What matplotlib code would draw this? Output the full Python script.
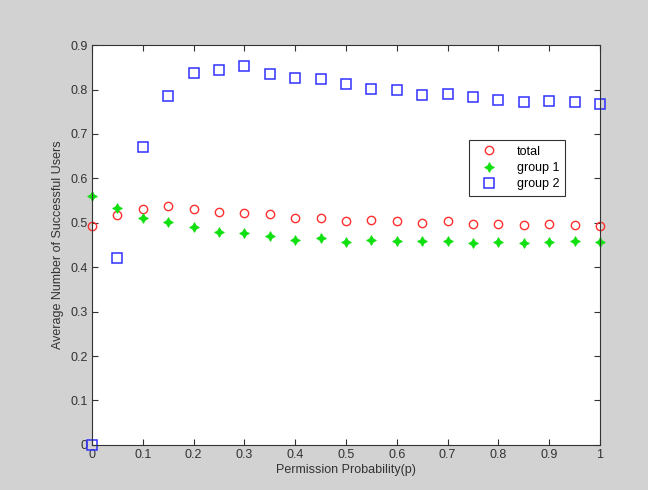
import matplotlib as mplt
mplt.use("Agg")
import matplotlib.pyplot as plt
import numpy as np

# permission probability grid and the three averaged series
p = np.round(np.arange(0, 1.0001, 0.05), 2)

total = [0.493, 0.518, 0.531, 0.538, 0.531, 0.524, 0.522, 0.520, 0.511, 0.511,
         0.504, 0.506, 0.504, 0.500, 0.504, 0.497, 0.497, 0.495, 0.497, 0.495, 0.493]
group1 = [0.560, 0.533, 0.511, 0.502, 0.491, 0.479, 0.477, 0.470, 0.461, 0.466,
          0.457, 0.461, 0.459, 0.459, 0.459, 0.455, 0.457, 0.455, 0.457, 0.459, 0.457]
group2 = [0.000, 0.421, 0.670, 0.785, 0.837, 0.844, 0.853, 0.835, 0.826, 0.824,
          0.812, 0.801, 0.799, 0.788, 0.790, 0.783, 0.776, 0.772, 0.774, 0.772, 0.767]

x_ticks = [0, 0.1, 0.2, 0.3, 0.4, 0.5, 0.6, 0.7, 0.8, 0.9, 1]
x_tick_labels = ['0', '0.1', '0.2', '0.3', '0.4', '0.5', '0.6', '0.7', '0.8', '0.9', '1']
y_ticks = [0, 0.1, 0.2, 0.3, 0.4, 0.5, 0.6, 0.7, 0.8, 0.9]
y_tick_labels = ['0', '0.1', '0.2', '0.3', '0.4', '0.5', '0.6', '0.7', '0.8', '0.9']

plt.rcParams['font.family'] = ['Liberation Sans', 'DejaVu Sans']

fig = plt.figure(figsize=(6.48, 4.90), dpi=100, facecolor='#d2d2d2')
ax = fig.add_axes([0.142, 0.092, 0.784, 0.816])

ax.plot(p, total, linestyle='none', marker='o', markersize=6, markerfacecolor='none',
        markeredgecolor='#ff3030', markeredgewidth=1.0, label='total', clip_on=False)
ax.plot(p, group1, linestyle='none', marker=(4, 1, 0), markersize=7, color='#10e010',
        markeredgewidth=0.6, label='group 1', clip_on=False)
ax.plot(p, group2, linestyle='none', marker='s', markersize=6.5, markerfacecolor='none',
        markeredgecolor='#3030ff', markeredgewidth=1.1, label='group 2', clip_on=False)

ax.set_xlim(0, 1)
ax.set_ylim(0, 0.9)
ax.set_xticks(x_ticks)
ax.set_xticklabels(x_tick_labels)
ax.set_yticks(y_ticks)
ax.set_yticklabels(y_tick_labels)
ax.tick_params(direction='in', top=True, right=True, length=4, width=0.8,
               labelsize=9, colors='#333333', pad=3)
for s in ax.spines.values():
    s.set_color('#333333')
    s.set_linewidth(0.8)

ax.set_xlabel('Permission Probability(p)', fontsize=9, color='#333333', labelpad=2)
ax.set_ylabel('Average Number of Successful Users', fontsize=9, color='#333333', labelpad=5)

leg = ax.legend(loc='upper right', bbox_to_anchor=(0.931, 0.7625), borderaxespad=0,
                fontsize=9, fancybox=False, framealpha=1, edgecolor='#333333',
                handletextpad=1.0, borderpad=0.45, labelspacing=0.35, handlelength=2.4)
leg.get_frame().set_linewidth(0.8)

fig.savefig('out.png', dpi=100, facecolor=fig.get_facecolor())
